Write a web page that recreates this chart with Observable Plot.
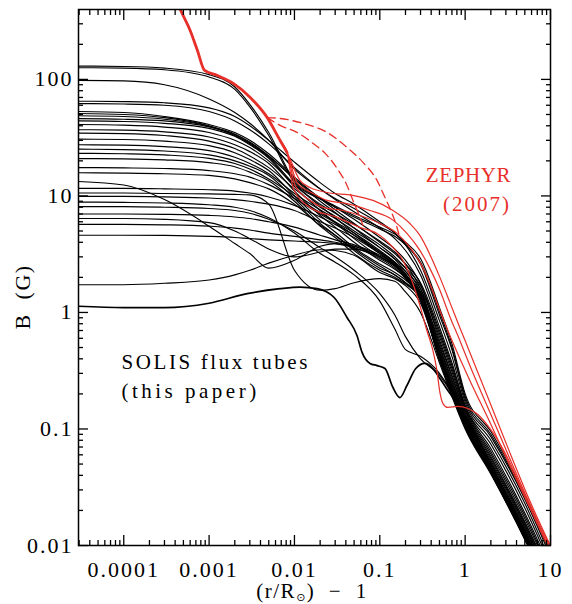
<!DOCTYPE html>
<html><head><meta charset="utf-8">
<script src="https://cdn.jsdelivr.net/npm/d3@7"></script>
<script src="https://cdn.jsdelivr.net/npm/@observablehq/plot@0.6"></script>
<style>html,body{margin:0;padding:0;background:#fff}svg{display:block}</style>
</head><body><div id="chart"></div>
<script>
// ---- data ----
const xGrid = [2.95e-5, 1e-4, 3e-4, 1e-3, 2e-3, 3e-3, 5e-3, 0.01, 0.02, 0.03, 0.05, 0.1, 0.15, 0.2, 0.3, 0.5, 0.7, 1, 2, 5, 10];
const fluxTubes = [
  [130,129,125,110,86,61,35,13.5,9.6,8.2,6.8,5.4,4.7,4.0,2.9,1.1,0.54,0.2,0.095,0.027,0.0088],
  [126,125,121,105,82,58,33,13,9.4,8.0,6.6,5.2,4.5,3.8,2.7,1.02,0.5,0.19,0.09,0.026,0.0085],
  [98,97,90,68,52,42,30,17,11.5,9.5,7.8,5.8,4.8,3.9,2.6,0.95,0.48,0.18,0.086,0.025,0.008],
  [65,64.5,63,57,48,40,30,19.5,13,10.5,8.5,6.0,4.8,3.8,2.3,0.85,0.42,0.17,0.08,0.023,0.0073],
  [62,61.5,60,53,44,37,28,17.5,11.5,9.3,7.3,5.3,4.3,3.4,2.1,0.75,0.37,0.16,0.074,0.021,0.0068],
  [53,52,48,41,35,30,23,14.5,9.5,7.6,5.8,4.0,3.2,2.6,1.8,0.7,0.35,0.155,0.068,0.019,0.0064],
  [51,50,47,40,34,29,22,14,9.0,7.2,5.3,3.6,2.9,2.4,1.7,0.66,0.33,0.15,0.064,0.018,0.006],
  [48.8,48,45.5,39.5,33,28,21.5,12.5,8.2,6.5,4.8,3.3,2.7,2.25,1.6,0.62,0.31,0.145,0.061,0.017,0.0058],
  [46,45.5,44,39,33.5,28.5,22,14,9.6,8.0,6.3,4.4,3.5,2.8,1.75,0.58,0.29,0.14,0.058,0.016,0.0055],
  [44,43.5,42,38,32.5,27.5,21,12,7.5,5.9,4.3,3.0,2.5,2.1,1.5,0.55,0.28,0.135,0.056,0.0155,0.0053],
  [41,40.5,39,35,30,26,20,12.5,8.5,7.1,5.7,4.1,3.3,2.6,1.6,0.52,0.265,0.13,0.054,0.015,0.005],
  [37,36.7,35.5,32,27.5,24,19,11,6.8,5.4,4.0,2.8,2.35,2.0,1.45,0.5,0.255,0.127,0.052,0.0145,0.0049],
  [34.6,34.3,33,29.5,25.5,22,17.5,11.5,8,6.7,5.3,3.8,3.0,2.4,1.5,0.48,0.245,0.124,0.05,0.014,0.0047],
  [30.7,30.5,29.5,27,23.5,20.5,16.5,10,6.2,4.9,3.6,2.6,2.2,1.9,1.4,0.46,0.235,0.12,0.049,0.0135,0.0045],
  [27.5,27.3,26.5,24.5,21.5,19,15.5,10.5,7.6,6.4,5.0,3.6,2.85,2.25,1.42,0.44,0.225,0.117,0.047,0.013,0.0044],
  [25.2,25,24.3,22.5,20,18,15,9.5,5.8,4.6,3.4,2.4,2.1,1.8,1.35,0.43,0.22,0.114,0.046,0.0127,0.0043],
  [23.2,23,22.5,21,19,17,14,10,7.2,6.0,4.8,3.4,2.7,2.15,1.35,0.42,0.215,0.111,0.045,0.0124,0.0042],
  [20.9,20.8,20.4,19.3,17.8,16,13.5,9.0,5.5,4.4,3.2,2.3,2.0,1.75,1.32,0.41,0.21,0.108,0.044,0.0121,0.0041],
  [17.5,17.4,17.2,16.5,15.5,14.5,12.5,9.5,7.0,5.9,4.6,3.2,2.55,2.0,1.28,0.4,0.205,0.105,0.043,0.0118,0.004],
  [15.8,15.7,15.5,15,14,13,11.5,8.5,5.6,4.6,3.5,2.5,2.1,1.8,1.3,0.39,0.2,0.103,0.042,0.0115,0.0039],
  [13.3,12.4,9.3,5.5,3.9,3.2,2.4,2.8,3.7,3.9,3.7,3.0,2.5,2.0,1.3,0.41,0.21,0.108,0.044,0.0121,0.0041],
  [11.6,11.6,11.5,11.3,11,10.6,9.8,8.3,6.6,5.7,4.6,3.3,2.65,2.1,1.35,0.43,0.22,0.112,0.045,0.0124,0.0042],
  [10.6,10.6,10.5,10.4,10.3,10.2,8.5,2.3,1.55,1.6,1.8,1.95,1.85,1.5,1.0,0.37,0.19,0.1,0.041,0.0112,0.0037],
  [9.9,9.9,9.8,9.6,9.3,9,8.5,7.5,6,5.3,4.4,3.2,2.6,2.05,1.3,0.41,0.21,0.108,0.044,0.0119,0.0041],
  [8.85,8.8,8.7,8.4,8,7.5,6.5,4.8,3.2,2.7,2.1,1.25,0.72,0.48,0.42,0.3,0.205,0.12,0.047,0.013,0.0044],
  [8.1,8.1,8.0,7.8,7.5,7.1,6.3,5,3.6,3.0,2.3,1.45,0.95,0.62,0.4,0.29,0.2,0.118,0.046,0.0126,0.0043],
  [7.0,7.0,6.95,6.8,6.6,6.4,6.0,5.4,4.6,4.2,3.8,3.1,2.6,2.1,1.36,0.44,0.225,0.114,0.046,0.0125,0.0043],
  [6.4,6.4,6.3,5.9,5.0,4.3,3.5,3.0,3.3,3.5,3.5,3.0,2.55,2.05,1.35,0.45,0.23,0.118,0.047,0.0128,0.0044],
  [5.7,5.7,5.65,5.5,5.3,5.1,4.8,4.5,4.2,4.0,3.7,3.0,2.5,2.0,1.3,0.41,0.21,0.107,0.043,0.0117,0.004],
  [4.6,4.6,4.58,4.5,4.4,4.3,4.2,4.1,4.0,3.9,3.6,2.9,2.4,1.95,1.26,0.4,0.205,0.104,0.042,0.0114,0.0039],
  [1.73,1.73,1.78,1.9,2.1,2.3,2.65,3.1,3.45,3.4,3.1,2.2,1.95,1.7,1.2,0.4,0.2,0.105,0.042,0.0116,0.004]
];
const weakTubeX = [2.95e-5,1e-4,3e-4,1e-3,2.8e-3,6.8e-3,0.0116,0.0184,0.029,0.0413,0.054,0.062,0.0767,0.0927,0.115,0.1425,0.172,0.208,0.264,0.337,0.419,0.506,0.662,1.0,2.0,5.0,10];
const weakTubeB = [1.13,1.1,1.1,1.2,1.45,1.6,1.65,1.6,1.35,0.906,0.635,0.454,0.365,0.35,0.33,0.227,0.186,0.236,0.33,0.365,0.33,0.271,0.202,0.13,0.05,0.013,0.0045];

// ZEPHYR (2007): shared inner part, then individual models
const zephyrBaseX = [4.3e-4,4.6e-4,6.0e-4,7.3e-4,8.8e-4,1.25e-3,1.92e-3,3.03e-3,4.8e-3,6.8e-3,8.2e-3];
const zephyrBaseB = [450,399,263,177,120,108,92.5,70,47,29.9,23.6];
const zephyr1X = [0.0116,0.0152,0.0241,0.0485,0.0832,0.1426,0.2254,0.295,0.386,0.506,0.662,0.867,1.135,1.95,3.33,5.7,10.2];
const zephyr1B = [13.6,11.8,10.7,10.1,9.15,7.5,5.8,4.58,3.15,2.0,1.22,0.74,0.454,0.169,0.063,0.0243,0.0096];
const zephyr2X = [0.0107,0.01656,0.0241,0.0413,0.0767,0.1426,0.208,0.295,0.386,0.506,0.662,0.867,1.135,1.95,3.33,5.7,10];
const zephyr2B = [13.1,10.5,9.15,8.6,7.5,6.2,4.77,3.41,2.39,1.55,0.92,0.575,0.351,0.139,0.0558,0.0229,0.0096];
const zephyr3X = [0.0102,0.0152,0.0216,0.0371,0.0586,0.1005,0.159,0.2254,0.295,0.386,0.506,0.662,0.867,1.135,1.95,3.33,5.7,9.7];
const zephyr3B = [12.3,9.15,7.97,7.5,6.8,5.8,4.77,3.61,2.69,1.77,1.04,0.635,0.403,0.261,0.114,0.0486,0.0212,0.0096];
const zephyr4X = [0.0097,0.0152,0.0316,0.0586,0.0927,0.1426,0.1866,0.244,0.295,0.356,0.419,0.467,0.506,0.548,0.627,0.82,1.074,1.41,1.95,2.91,5,9.27,10.5];
const zephyr4B = [11.6,7.97,6.54,5.37,4.77,3.61,2.79,1.77,1.15,0.70,0.472,0.318,0.206,0.166,0.153,0.156,0.150,0.133,0.101,0.063,0.0269,0.01,0.0085];
const zephyrDashAX = [4.8e-3,6.8e-3,0.01265,0.0241,0.0413,0.0635,0.0927,0.115,0.139,0.159,0.172];
const zephyrDashAB = [47,46.2,41.9,35.1,26.1,19.4,13.6,9.7,7.08,5.37,4.32];
const zephyrDashBX = [4.8e-3,6.8e-3,0.0107,0.01656,0.0241,0.0316,0.0413,0.0485,0.0586,0.0635];
const zephyrDashBB = [47,40.3,35.1,28.2,22.3,17.2,12.3,9.15,6.54,5.58];

const xTickValues = [1e-4, 1e-3, 1e-2, 1e-1, 1, 10];
const xTickLabels = ["0.0001", "0.001", "0.01", "0.1", "1", "10"];
const yTickValues = [0.01, 0.1, 1, 10, 100];
const yTickLabels = ["0.01", "0.1", "1", "10", "100"];
const xDomain = [2.95e-5, 10];
const yDomain = [0.01, 398];

// ---- build tables ----
const tubeRows = [];
fluxTubes.forEach((arr, i) => arr.forEach((b, j) => tubeRows.push({x: xGrid[j], B: b, id: "t" + i})));
const weakRows = weakTubeX.map((x, j) => ({x, B: weakTubeB[j]}));
const pairs = (X, Y, id) => X.map((x, j) => ({x, B: Y[j], id}));
const baseRows = pairs(zephyrBaseX, zephyrBaseB, "base");
const redRows = [
  ...pairs([...zephyrBaseX, ...zephyr1X], [...zephyrBaseB, ...zephyr1B], "z1"),
  ...pairs([...zephyrBaseX, ...zephyr2X], [...zephyrBaseB, ...zephyr2B], "z2"),
  ...pairs([...zephyrBaseX, ...zephyr3X], [...zephyrBaseB, ...zephyr3B], "z3"),
  ...pairs([...zephyrBaseX, ...zephyr4X], [...zephyrBaseB, ...zephyr4B], "z4")
];
const dashRows = [...pairs(zephyrDashAX, zephyrDashAB, "da"), ...pairs(zephyrDashBX, zephyrDashBB, "db")];

function minorTicks(lo, hi) {
  const out = [];
  for (let e = -6; e <= 3; e++) for (let m = 2; m <= 9; m++) {
    const v = m * Math.pow(10, e);
    if (v > lo * 1.0001 && v < hi * 0.9999) out.push(v);
  }
  return out;
}
const xMinor = minorTicks(xDomain[0], xDomain[1]);
const yMinor = minorTicks(yDomain[0], yDomain[1]);
const xLab = new Map(xTickValues.map((d, i) => [d, xTickLabels[i]]));
const yLab = new Map(yTickValues.map((d, i) => [d, yTickLabels[i]]));

const RED = "#e8302a";
const FONT = "'Liberation Serif', 'Times New Roman', serif";
const tickAxes = [];
for (const anchor of ["bottom", "top"]) {
  tickAxes.push(Plot.axisX({anchor, ticks: xTickValues, tickSize: -10, fill: "none", stroke: "black", strokeWidth: 1.3, label: null}));
  tickAxes.push(Plot.axisX({anchor, ticks: xMinor, tickSize: -5, fill: "none", stroke: "black", strokeWidth: 1.3, label: null}));
}
for (const anchor of ["left", "right"]) {
  tickAxes.push(Plot.axisY({anchor, ticks: yTickValues, tickSize: -10, fill: "none", stroke: "black", strokeWidth: 1.3, label: null}));
  tickAxes.push(Plot.axisY({anchor, ticks: yMinor, tickSize: -5, fill: "none", stroke: "black", strokeWidth: 1.3, label: null}));
}

const chart = Plot.plot({
  width: 572, height: 604,
  marginLeft: 78, marginRight: 22, marginTop: 9, marginBottom: 59,
  x: {type: "log", domain: xDomain, label: null},
  y: {type: "log", domain: yDomain, label: null},
  style: {fontFamily: FONT, fontSize: "22px", background: "white", color: "black", overflow: "visible"},
  marks: [
    Plot.line(tubeRows, {x: "x", y: "B", z: "id", stroke: "black", strokeWidth: 1.15, curve: "monotone-x", clip: true}),
    Plot.line(weakRows, {x: "x", y: "B", stroke: "black", strokeWidth: 1.7, curve: "monotone-x", clip: true}),
    Plot.line(redRows, {x: "x", y: "B", z: "id", stroke: RED, strokeWidth: 1.2, curve: "monotone-x", clip: true}),
    Plot.line(dashRows, {x: "x", y: "B", z: "id", stroke: RED, strokeWidth: 1.3, strokeDasharray: "8,5", curve: "monotone-x", clip: true}),
    Plot.line(baseRows, {x: "x", y: "B", stroke: RED, strokeWidth: 2.8, curve: "monotone-x", clip: true}),
    Plot.text(["SOLIS flux tubes"], {x: 9.4e-5, y: 0.324, text: d => d, textAnchor: "start", lineAnchor: "bottom", fontSize: 21, fill: "black", className: "ann-black1"}),
    Plot.text(["(this paper)"], {x: 9.4e-5, y: 0.185, text: d => d, textAnchor: "start", lineAnchor: "bottom", fontSize: 21, fill: "black", className: "ann-black2"}),
    Plot.text(["ZEPHYR"], {x: 3.45, y: 13.06, text: d => d, textAnchor: "end", lineAnchor: "bottom", fontSize: 21, fill: RED, className: "ann-red1"}),
    Plot.text(["(2007)"], {x: 3.45, y: 7.36, text: d => d, textAnchor: "end", lineAnchor: "bottom", fontSize: 21, fill: RED, className: "ann-red2"}),
    ...tickAxes,
    Plot.axisX({anchor: "bottom", ticks: xTickValues, tickSize: 0, tickPadding: 16, tickFormat: d => xLab.get(d), label: null, fontSize: 22, className: "xlab"}),
    Plot.axisY({anchor: "left", ticks: yTickValues, tickSize: 0, tickPadding: 5, tickFormat: d => yLab.get(d), label: null, fontSize: 22, className: "ylab"}),
    Plot.frame({stroke: "black", strokeWidth: 1.5})
  ]
});

const svg = d3.select(chart);
svg.selectAll(".xlab text, .ylab text").attr("letter-spacing", "2px");
svg.selectAll(".ann-black1 text").attr("letter-spacing", "2.6px");
svg.selectAll(".ann-black2 text").attr("letter-spacing", "3.5px");
svg.selectAll(".ann-red1 text").attr("letter-spacing", "0.6px");
svg.selectAll(".ann-red2 text").attr("letter-spacing", "2px");

const xt = svg.append("text")
  .attr("x", 312).attr("y", 598).attr("text-anchor", "middle")
  .attr("font-family", FONT).attr("font-size", 21).attr("fill", "black")
  .attr("letter-spacing", "1.5px").style("white-space", "pre");
xt.append("tspan").text("(r/R");
xt.append("tspan").attr("font-size", 11).attr("dy", 3).attr("font-family", "'DejaVu Sans', sans-serif").text("\u2299");
xt.append("tspan").attr("dy", -3).text(")  \u2212  1");

svg.append("text")
  .attr("transform", "translate(30,297) rotate(-90)")
  .attr("text-anchor", "middle")
  .attr("font-family", FONT).attr("font-size", 22).attr("fill", "black")
  .attr("letter-spacing", "1.5px").style("white-space", "pre")
  .text("B  (G)");

document.getElementById("chart").appendChild(chart);
</script>
</body></html>
